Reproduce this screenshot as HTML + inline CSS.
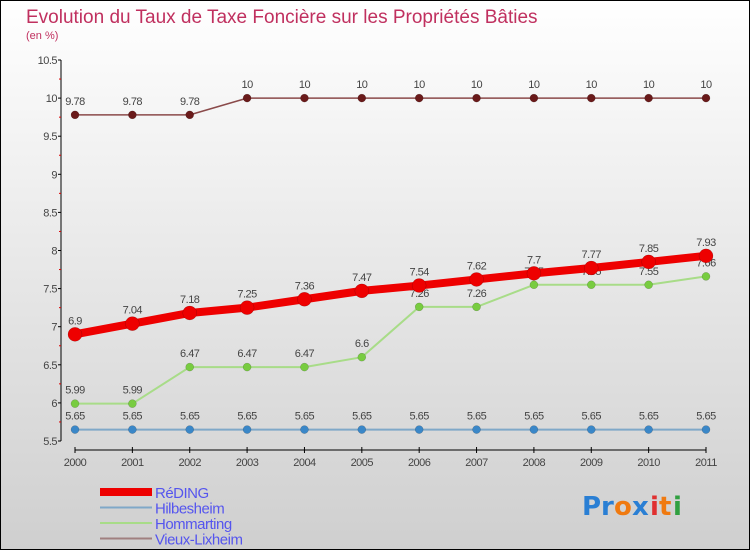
<!DOCTYPE html>
<html><head><meta charset="utf-8"><style>
html,body{margin:0;padding:0}
body{width:750px;height:550px;overflow:hidden;font-family:"Liberation Sans",sans-serif}
</style></head><body>
<svg id="chart" width="750" height="550" xmlns="http://www.w3.org/2000/svg">
<defs><linearGradient id="bg" x1="0" y1="0" x2="0" y2="1"><stop offset="0" stop-color="#ffffff"/><stop offset="1" stop-color="#cfcfcf"/></linearGradient></defs>
<rect x="0.5" y="0.5" width="749" height="549" fill="url(#bg)" stroke="#000"/>
<text x="26" y="23" font-size="19" fill="#c0305f">Evolution du Taux de Taxe Foncière sur les Propriétés Bâties</text>
<text x="26" y="39" font-size="11" fill="#c0305f">(en %)</text>
<g id="axes"></g>
<g id="series"></g>
<g id="legend"></g>
<g font-size="26" font-weight="bold" font-family="'DejaVu Sans',sans-serif">
<text x="582" y="515" fill="#2a7fd4">P</text><text x="601" y="515" fill="#2a7fd4">r</text><text x="614" y="515" fill="#f07a10">o</text><text x="632" y="515" fill="#2a7fd4">x</text><text x="650" y="515" fill="#e03030">i</text><text x="659" y="515" fill="#f07a10">t</text><text x="673" y="515" fill="#30a040">i</text>
</g>
</svg>
<script>
const years=[2000,2001,2002,2003,2004,2005,2006,2007,2008,2009,2010,2011];
const reding=[6.9,7.04,7.18,7.25,7.36,7.47,7.54,7.62,7.7,7.77,7.85,7.93];
const hilbesheim=[5.65,5.65,5.65,5.65,5.65,5.65,5.65,5.65,5.65,5.65,5.65,5.65];
const hommarting=[5.99,5.99,6.47,6.47,6.47,6.6,7.26,7.26,7.55,7.55,7.55,7.66];
const vieux=[9.78,9.78,9.78,10,10,10,10,10,10,10,10,10];
const yTicks=[5.5,6,6.5,7,7.5,8,8.5,9,9.5,10,10.5];
const NS='http://www.w3.org/2000/svg';
const x=i=>75+i*(706-75)/(years.length-1);
const y=v=>441-(v-5.5)*(441-60)/5;
function mk(t,a,p){const e=document.createElementNS(NS,t);for(const k in a)e.setAttribute(k,a[k]);p.appendChild(e);return e;}
const ax=document.getElementById('axes');
const yl=mk('line',{x1:61,y1:60,x2:61,y2:441,stroke:'#000'},ax);


yTicks.forEach(t=>{
 mk('line',{x1:58,x2:61,y1:y(t),y2:y(t),stroke:'#000'},ax);
 if(t<10.5)mk('line',{x1:59,x2:61,y1:y(t+0.25),y2:y(t+0.25),stroke:'#d00'},ax);
 const tx=mk('text',{x:57,y:y(t)+4,'font-size':11,'text-anchor':'end',fill:'#444','letter-spacing':'-0.5'},ax);
 tx.textContent=String(t);
 
 
});
const xl=mk('line',{x1:75,y1:450,x2:706,y2:450,stroke:'#000'},ax);


years.forEach((yr,i)=>{
 mk('line',{x1:x(i),x2:x(i),y1:447,y2:453,stroke:'#000'},ax);
 const tx=mk('text',{x:x(i),y:466,'font-size':11,'text-anchor':'middle',fill:'#444','letter-spacing':'-0.5'},ax);
 tx.textContent=yr;
 
 
});
const sg=document.getElementById('series');
function series(vals,name,color,w,r,dot,labelCol){
 const g=mk('g',{},sg);
 
 
 mk('polyline',{points:vals.map((v,i)=>x(i)+','+y(v)).join(' '),fill:'none',stroke:color,'stroke-width':w,'stroke-linejoin':'round'},g);
 vals.forEach((v,i)=>{
  const c=mk('circle',{cx:x(i),cy:y(v),r:r,fill:dot,stroke:'#00000044','stroke-width':0.5},g);
  
  
  const t=mk('text',{x:x(i),y:y(v)-10,'font-size':11,'text-anchor':'middle',fill:labelCol,'letter-spacing':'-0.5'},g);
  t.textContent=String(v);
  
  
 });
}
series(hilbesheim,'hilbesheim','#7fa8c8',2,4,'#3a87c8','#444');
series(hommarting,'hommarting','#a8dc88',2,4,'#78cc40','#444');
series(vieux,'vieux-lixheim','#8a4a4a',1.5,4,'#6a1a1a','#444');
series(reding,'reding','#ee0000',8,7,'#ee0000','#444');
const lg=document.getElementById('legend');
const items=[['RéDING','#ee0000',8],['Hilbesheim','#7fa8c8',2],['Hommarting','#a8dc88',2],['Vieux-Lixheim','#a08080',2]];
items.forEach((it,i)=>{
 const g=mk('g',{},lg);
 
 
 const yy=492+i*15.5;
 mk('line',{x1:100,x2:152,y1:yy,y2:yy,stroke:it[1],'stroke-width':it[2]},g);
 const t=mk('text',{x:155,y:yy+6,'font-size':15,fill:'#5555ee','letter-spacing':'-0.5'},g);
 t.textContent=it[0];
});
</script>
</body></html>
